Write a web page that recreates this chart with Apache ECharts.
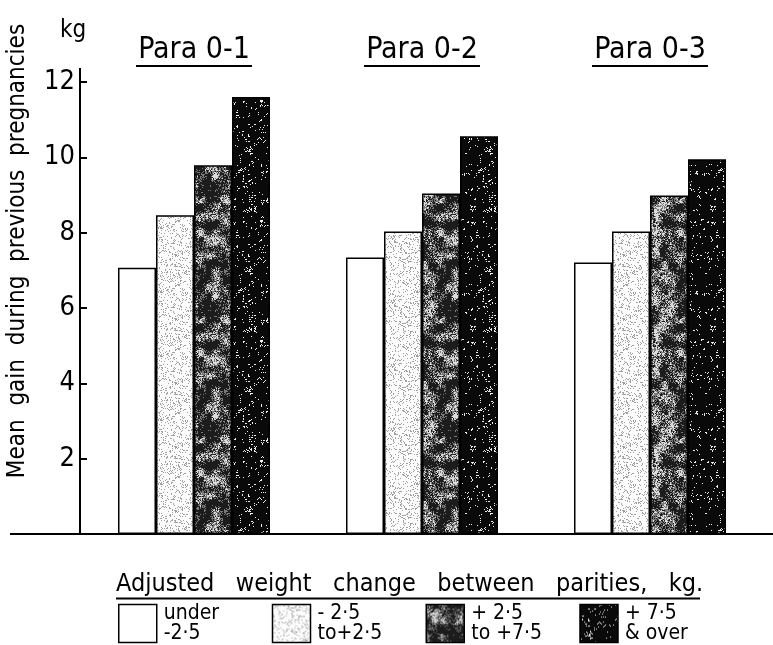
<!DOCTYPE html>
<html><head><meta charset="utf-8">
<script src="https://cdn.jsdelivr.net/npm/echarts@6/dist/echarts.min.js"></script>
<style>html,body{margin:0;padding:0;background:#fff}#c{width:773px;height:645px}</style>
</head><body><div id="c"></div>
<script>
var categories = ['Para 0-1', 'Para 0-2', 'Para 0-3'];
var seriesNames = ['under\n-2·5', '- 2·5\nto+2·5', '+ 2·5\nto +7·5', '+ 7·5\n& over'];
var underM25 = [7.07, 7.34, 7.21];
var m25to25 = [8.46, 8.03, 8.03];
var p25to75 = [9.79, 9.04, 8.99];
var p75over = [11.6, 10.56, 9.95];
var yTicks = [0, 2, 4, 6, 8, 10, 12];

var FONT = 'DejaVu Sans Condensed';

function hash(i, j, s) {
  var h = Math.sin(i * 127.1 + j * 311.7 + s * 74.7) * 43758.5453;
  return h - Math.floor(h);
}
function smooth(x, y, s, cell, period) {
  var xi = Math.floor(x / cell), yi = Math.floor(y / cell);
  var fx = x / cell - xi, fy = y / cell - yi;
  var x0 = xi % period, y0 = yi % period, x1 = (xi + 1) % period, y1 = (yi + 1) % period;
  var a = hash(x0, y0, s), b = hash(x1, y0, s), c = hash(x0, y1, s), d = hash(x1, y1, s);
  fx = fx * fx * (3 - 2 * fx); fy = fy * fy * (3 - 2 * fy);
  return (a * (1 - fx) + b * fx) * (1 - fy) + (c * (1 - fx) + d * fx) * fy;
}
function makePattern(size, fn) {
  var c = document.createElement('canvas');
  c.width = size; c.height = size;
  var g = c.getContext('2d');
  var img = g.createImageData(size, size);
  for (var y = 0; y < size; y++) {
    for (var x = 0; x < size; x++) {
      var v = fn(x, y);
      var p = (y * size + x) * 4;
      img.data[p] = img.data[p + 1] = img.data[p + 2] = v; img.data[p + 3] = 255;
    }
  }
  g.putImageData(img, 0, 0);
  return { image: c, repeat: 'repeat' };
}
var patLight = makePattern(64, function (x, y) {
  return hash(x, y, 1) < 0.16 ? 160 : 252;
});
var patMid = makePattern(120, function (x, y) {
  var n = smooth(x, y, 2, 8, 15) * 0.55 + smooth(x, y, 4, 3, 40) * 0.25 + hash(x, y, 5) * 0.45;
  return n > 0.85 ? 220 : (n > 0.66 ? 120 : 28);
});
var patDark = makePattern(120, function (x, y) {
  var n = smooth(x, y, 3, 3, 40) * 0.5 + hash(x, y, 7) * 0.6;
  return n > 0.87 ? 235 : 10;
});
var fills = ['#ffffff', patLight, patMid, patDark];
var dataSets = [underM25, m25to25, p25to75, p75over];

var chart = echarts.init(document.getElementById('c'), null, { renderer: 'canvas' });
var series = dataSets.map(function (d, k) {
  return {
    name: seriesNames[k], type: 'bar', data: d,
    barWidth: 38, barGap: '0%',
    itemStyle: { color: fills[k], borderColor: '#000', borderWidth: 1.5 },
    emphasis: { disabled: true }
  };
});
chart.setOption({
  animation: false,
  backgroundColor: '#fff',
  grid: { left: 80, right: 9, top: 82, bottom: 111, containLabel: false, outerBoundsMode: 'none' },
  xAxis: [{
    type: 'category', data: categories, position: 'bottom',
    axisLine: { show: false }, axisTick: { show: false }, axisLabel: { show: false }
  }, {
    type: 'category', data: categories, position: 'top',
    axisLine: { show: false }, axisTick: { show: false },
    axisLabel: {
      margin: 15,
      formatter: function (v) { return '{t|' + v + '}\n{u|}'; },
      rich: {
        t: { fontFamily: FONT, fontSize: 30, color: '#000', lineHeight: 30, align: 'center' },
        u: { width: 116, height: 2, backgroundColor: '#000', align: 'center' }
      }
    }
  }],
  yAxis: {
    type: 'value', min: yTicks[0], max: yTicks[yTicks.length - 1], interval: 2,
    splitLine: { show: false },
    axisLine: { show: true, lineStyle: { color: '#000', width: 2 } },
    axisTick: { show: true, inside: true, length: 7, lineStyle: { color: '#000', width: 2 } },
    axisLabel: {
      color: '#000', fontFamily: FONT, fontSize: 27, margin: 5,
      formatter: function (v) { return v === 0 ? '' : String(v); }
    }
  },
  legend: {
    left: 118, top: 603, padding: 0, itemWidth: 38, itemHeight: 38, itemGap: 0,
    icon: 'rect', selectedMode: false,
    itemStyle: { borderColor: '#000', borderWidth: 1.5 },
    textStyle: { fontFamily: FONT, fontSize: 21, color: '#000', lineHeight: 20, width: 108, padding: [0, 0, 0, 2] },
    data: seriesNames
  },
  graphic: [
    { type: 'line', shape: { x1: 10, y1: 534, x2: 773, y2: 534 }, style: { stroke: '#000', lineWidth: 2 } },
    { type: 'line', shape: { x1: 80, y1: 68, x2: 80, y2: 83 }, style: { stroke: '#000', lineWidth: 2 } },
    { type: 'text', left: 60, top: 19, style: { text: 'kg', fontFamily: FONT, fontSize: 24, fill: '#000' } },
    { type: 'text', x: 18, y: 251, rotation: Math.PI / 2, style: {
      text: 'Mean  gain  during  previous  pregnancies', fontFamily: FONT, fontSize: 24, fill: '#000',
      align: 'center', verticalAlign: 'middle' } },
    { type: 'text', left: 116, top: 572, style: {
      text: '{t|Adjusted   weight   change   between   parities,   kg.}\n{u|}',
      rich: {
        t: { fontFamily: FONT, fontSize: 25, fill: '#000', lineHeight: 26 },
        u: { width: 584, height: 2, backgroundColor: '#000' }
      } } }
  ],
  series: series
});
</script></body></html>
